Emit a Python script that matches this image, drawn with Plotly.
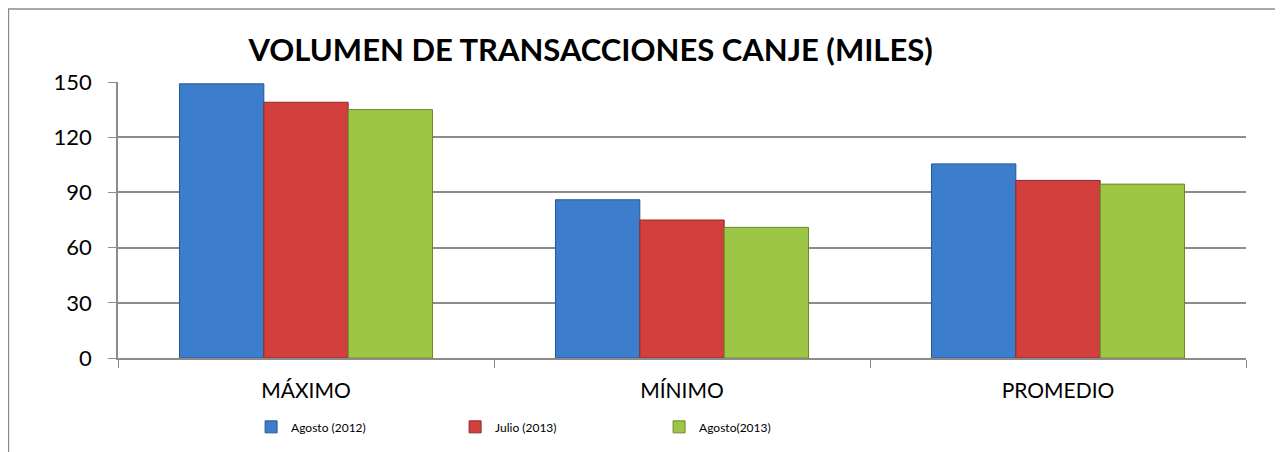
import plotly.graph_objects as go

categorias = ["MÁXIMO", "MÍNIMO", "PROMEDIO"]
agosto_2012 = [149, 86, 105.5]
julio_2013 = [139, 75, 96.5]
agosto_2013 = [135, 71, 94.5]
series = ["Agosto (2012)", "Julio (2013)", "Agosto(2013)"]
y_ticks = [0, 30, 60, 90, 120, 150]

colores = ["#3c7dcc", "#d23f3d", "#9dc646"]
bordes = ["#2a5690", "#8e2a28", "#6a8a2e"]

fig = go.Figure()
for nombre, valores, color, borde in zip(series, [agosto_2012, julio_2013, agosto_2013], colores, bordes):
    fig.add_trace(go.Bar(
        x=categorias,
        y=valores,
        name=nombre,
        marker=dict(color=color, line=dict(color=borde, width=1)),
    ))

# the page body adds an 8px margin, so the figure is a bit smaller than the window
fig.update_layout(
    width=1275,
    height=444,
    barmode="group",
    bargap=0.327,
    bargroupgap=0,
    plot_bgcolor="white",
    paper_bgcolor="white",
    margin=dict(l=110, r=37, t=74, b=93),
    font=dict(family="Lato", color="black"),
    title=dict(
        text="<b>VOLUMEN DE TRANSACCIONES CANJE (MILES)</b>",
        x=0.457, xanchor="center", y=0.905, yanchor="middle",
        font=dict(size=31, family="Lato", color="black"),
    ),
    legend=dict(
        orientation="h",
        x=0.118, xanchor="left", y=-0.245, yanchor="middle",
        font=dict(size=12),
        entrywidth=159, entrywidthmode="pixels",
        itemwidth=30,
    ),
    showlegend=True,
    shapes=[dict(
        type="rect", xref="paper", yref="paper",
        x0=-0.0971, x1=1.031, y0=-0.5, y1=1.2645,
        line=dict(color="#8c8c8c", width=1.5),
    )],
)

fig.update_xaxes(
    showline=True, linecolor="#8c8c8c", linewidth=1.5,
    ticks="outside", tickson="boundaries", ticklen=8, tickcolor="#8c8c8c",
    tickfont=dict(size=21), ticklabelstandoff=13,
)
fig.update_yaxes(
    range=[0, 150], tickvals=y_ticks,
    showline=True, linecolor="#8c8c8c", linewidth=1.5,
    showgrid=True, gridcolor="#8c8c8c", gridwidth=1.5,
    ticks="outside", ticklen=8, tickcolor="#8c8c8c",
    tickfont=dict(size=22), ticklabelstandoff=12,
    zeroline=False,
)

fig.write_html("out.html")
